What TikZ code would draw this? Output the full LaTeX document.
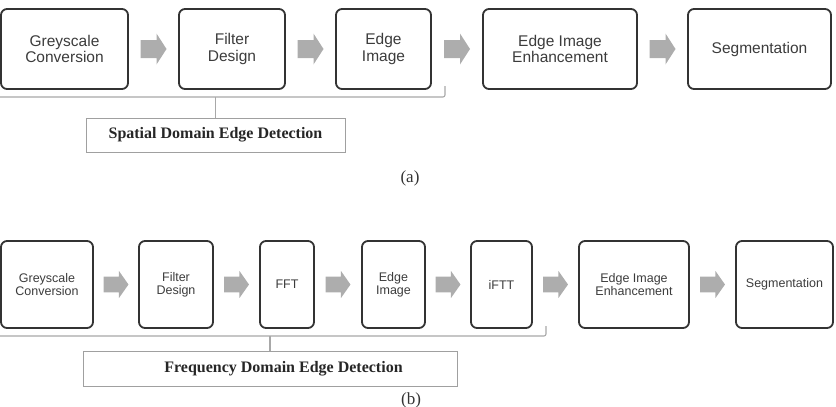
\documentclass[tikz,border=0pt]{standalone}
\usepackage{fontspec}
\setmainfont{Liberation Serif}
\newfontfamily\boxfont{Liberation Sans}
\usetikzlibrary{calc}

\definecolor{boxline}{HTML}{333333}
\definecolor{boxtext}{HTML}{3C3C3C}
\definecolor{arrowgrey}{HTML}{ADADAD}
\definecolor{bracegrey}{HTML}{A8A8A8}
\definecolor{labelline}{HTML}{A0A0A0}

\tikzset{
  stage/.style={draw=boxline, line width=1.8pt, rounded corners=6pt, fill=white,
    align=center, text=boxtext, inner sep=0pt},
  stageA/.style={stage, minimum height=80pt, font=\boxfont\fontsize{15.5}{16.5}\selectfont},
  stageB/.style={stage, minimum height=87pt, font=\boxfont\fontsize{12.5}{13}\selectfont},
  bracket/.style={draw=bracegrey, line width=1.1pt, rounded corners=2pt},
  domainbox/.style={draw=labelline, line width=1pt, inner sep=0pt,
    font=\bfseries\fontsize{16}{18}\selectfont, text=black!85},
  caption/.style={font=\fontsize{17}{19}\selectfont, text=black!80},
}

% grey block arrow centred halfway between two stages
\newcommand\blockarrow[3][]{%
  \fill[arrowgrey, shift={($(#2.east)!.5!(#3.west)$)}, #1]
    (-13,-9) -- (3,-9) -- (3,-15.5) -- (13,0) -- (3,15.5) -- (3,9) -- (-13,9) -- cycle;}

\begin{document}
\begin{tikzpicture}[x=1pt, y=-1pt]
\useasboundingbox (0,0) rectangle (836,407);

% ---------- (a) spatial domain pipeline ----------
\node[stageA, minimum width=127pt] (a1) at (64.5,49)  {Greyscale\\Conversion};
\node[stageA, minimum width=106pt] (a2) at (232,49)   {Filter\\Design};
\node[stageA, minimum width=95pt]  (a3) at (383.5,49) {Edge\\Image};
\node[stageA, minimum width=154pt] (a4) at (560,49)   {Edge Image\\Enhancement};
\node[stageA, minimum width=143pt] (a5) at (759.5,49) {Segmentation};

\blockarrow{a1}{a2}
\blockarrow{a2}{a3}
\blockarrow{a3}{a4}
\blockarrow{a4}{a5}

\node[domainbox, minimum width=259pt, minimum height=34pt] (sa) at (215.5,135)
  {Spatial Domain Edge Detection};
\coordinate (sl) at (-4,86);
\coordinate (sr) at (445,86);
\draw[bracket] (sl) |- ($(sr)+(0,11)$) -- (sr);
\draw[bracket, rounded corners=0pt] (sa.north) -- (sa.north |- 0,97);

\node[caption] (capa) at (410,178) {(a)};

% ---------- (b) frequency domain pipeline ----------
\node[stageB, minimum width=92pt]  (b1) at (47,284.5)    {Greyscale\\Conversion};
\node[stageB, minimum width=74pt]  (b2) at (176,284.5)   {Filter\\Design};
\node[stageB, minimum width=54pt]  (b3) at (287,284.5)   {FFT};
\node[stageB, minimum width=63pt]  (b4) at (393.5,284.5) {Edge\\Image};
\node[stageB, minimum width=61pt]  (b5) at (501.5,284.5) {iFTT};
\node[stageB, minimum width=110pt] (b6) at (634,284.5)   {Edge Image\\Enhancement};
\node[stageB, minimum width=97pt]  (b7) at (784.5,284.5) {Segmentation};

\blockarrow[xscale=0.96, yscale=0.88]{b1}{b2}
\blockarrow[xscale=0.96, yscale=0.88]{b2}{b3}
\blockarrow[xscale=0.96, yscale=0.88]{b3}{b4}
\blockarrow[xscale=0.96, yscale=0.88]{b4}{b5}
\blockarrow[xscale=0.96, yscale=0.88]{b5}{b6}
\blockarrow[xscale=0.96, yscale=0.88]{b6}{b7}

\node[domainbox, minimum width=374pt, minimum height=35pt] (fb) at (270,368.5)
  {\hspace*{27pt}Frequency Domain Edge Detection};
\coordinate (fl) at (-4,326);
\coordinate (fr) at (546,326);
\draw[bracket] (fl) |- ($(fr)+(0,10)$) -- (fr);
\draw[bracket, rounded corners=0pt] (fb.north) -- (fb.north |- 0,336);

\node[caption] (capb) at (411,400) {(b)};
\end{tikzpicture}
\end{document}
